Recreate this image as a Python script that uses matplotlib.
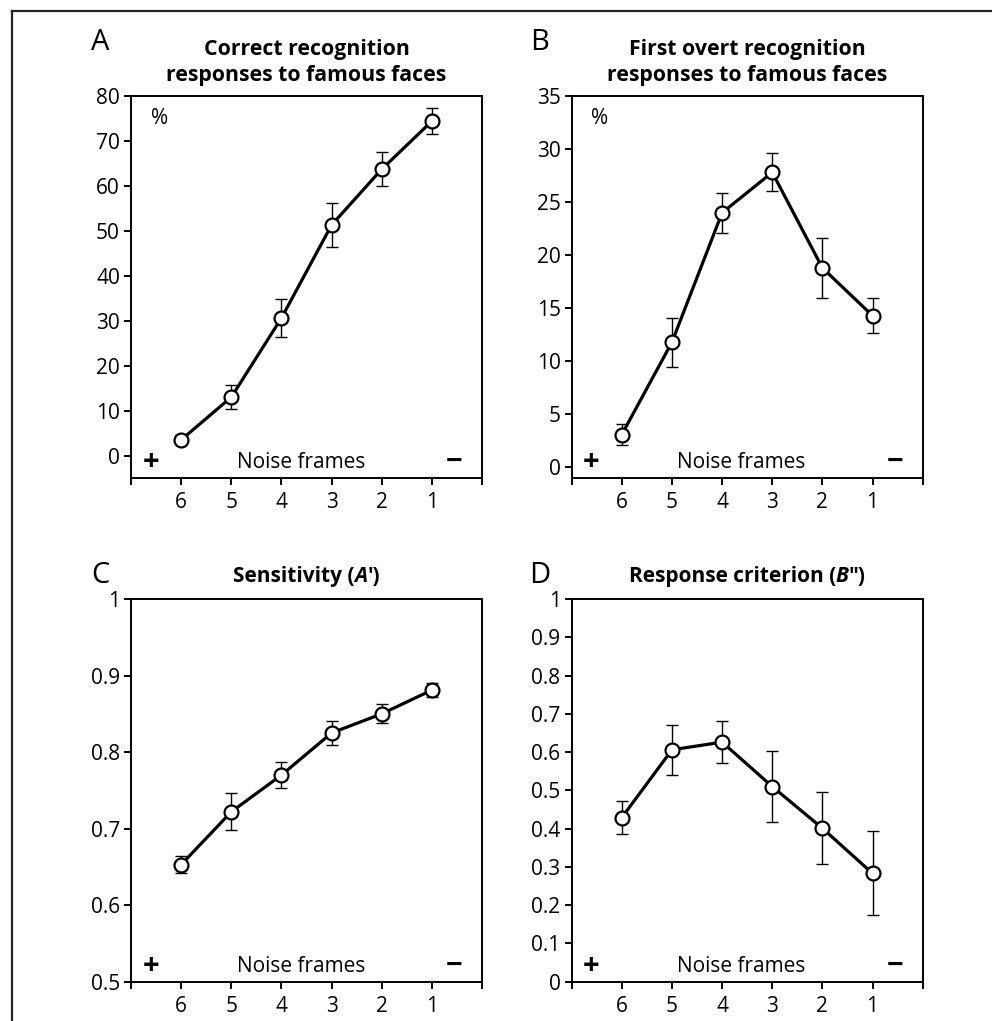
import matplotlib
matplotlib.use("Agg")
import matplotlib.pyplot as plt
from matplotlib.lines import Line2D
from matplotlib.offsetbox import TextArea, HPacker, AnnotationBbox

plt.rcParams["font.family"] = ["Open Sans", "DejaVu Sans"]
plt.rcParams["font.size"] = 15

# noise frames shown, from most to least noise
frames = [6, 5, 4, 3, 2, 1]
frame_labels = ["", "6", "5", "4", "3", "2", "1", ""]

# A: correct recognition responses (%)
recog = [3.5, 13.0, 30.6, 51.3, 63.7, 74.4]
recog_err = [1.0, 2.6, 4.3, 5.0, 3.8, 2.9]

# B: first overt recognition responses (%)
first = [3.1, 11.8, 24.0, 27.8, 18.8, 14.3]
first_err = [0.95, 2.3, 1.9, 1.8, 2.85, 1.65]

# C: sensitivity A'
sens = [0.653, 0.722, 0.770, 0.825, 0.850, 0.881]
sens_err = [0.011, 0.024, 0.017, 0.0155, 0.0125, 0.0096]

# D: response criterion B''
crit = [0.429, 0.606, 0.626, 0.510, 0.401, 0.283]
crit_err = [0.043, 0.066, 0.055, 0.092, 0.094, 0.110]

fig = plt.figure(figsize=(9.92, 10.21), dpi=100)


def panel(rect, y, err, ylim, yticks, letter, letter_pos, pct=False):
    ax = fig.add_axes(rect)
    ax.errorbar(frames, y, yerr=err, fmt="none", ecolor="black",
                elinewidth=1.0, capsize=4, capthick=1.0, zorder=2)
    ax.plot(frames, y, color="black", lw=2.3, marker="o", ms=10,
            mfc="white", mec="black", mew=1.6, zorder=3, clip_on=False)
    ax.set_xlim(7, 0)
    ax.set_xticks([7, 6, 5, 4, 3, 2, 1, 0])
    ax.set_xticklabels(frame_labels)
    ax.set_ylim(*ylim)
    ax.set_yticks(yticks)
    ax.set_yticklabels(["%g" % round(t, 2) for t in yticks])
    for s in ax.spines.values():
        s.set_linewidth(1.4)
    ax.tick_params(axis="x", direction="out", length=5, width=1.4, pad=5)
    ax.tick_params(axis="y", direction="out", length=5, width=1.4, pad=3)

    ax.text(0.484, 0.04, "Noise frames", transform=ax.transAxes,
            ha="center", va="center")
    ax.text(0.056, 0.04, "+", transform=ax.transAxes, ha="center",
            va="center", fontweight="bold", fontsize=21)
    ax.text(0.92, 0.04, "\u2212", transform=ax.transAxes, ha="center",
            va="center", fontweight="bold", fontsize=21)
    if pct:
        ax.text(0.08, 0.94, "%", transform=ax.transAxes, ha="center",
                va="center")
    fig.text(letter_pos[0], letter_pos[1], letter, fontsize=21,
             ha="center", va="baseline")
    return ax


def mixed_title(ax, pieces):
    boxes = [TextArea(txt, textprops=dict(fontsize=15, fontweight="bold",
                                          fontstyle=st))
             for txt, st in pieces]
    pack = HPacker(children=boxes, align="baseline", pad=0, sep=0)
    ab = AnnotationBbox(pack, (0.5, 1.0), xycoords="axes fraction",
                        xybox=(0, 9), boxcoords="offset points",
                        box_alignment=(0.5, 0), frameon=False, pad=0)
    ax.add_artist(ab)


axA = panel([0.1321, 0.5318, 0.3538, 0.3742], recog, recog_err,
            (-5, 80), list(range(0, 81, 10)), "A", (0.1008, 0.951), pct=True)
axA.set_title("Correct recognition\nresponses to famous faces",
              fontweight="bold", fontsize=15.3, pad=11, linespacing=1.3)

axB = panel([0.5763, 0.5318, 0.3538, 0.3742], first, first_err,
            (-1, 35), list(range(0, 36, 5)), "B", (0.544, 0.951), pct=True)
axB.set_title("First overt recognition\nresponses to famous faces",
              fontweight="bold", fontsize=15.3, pad=11, linespacing=1.3)

axC = panel([0.1321, 0.0385, 0.3538, 0.3748], sens, sens_err,
            (0.5, 1.0), [0.5, 0.6, 0.7, 0.8, 0.9, 1.0], "C", (0.1008, 0.429))
mixed_title(axC, [("Sensitivity (", "normal"), ("A", "italic"),
                  ("')", "normal")])

axD = panel([0.5763, 0.0385, 0.3538, 0.3748], crit, crit_err,
            (0.0, 1.0), [i / 10 for i in range(11)], "D", (0.544, 0.429))
mixed_title(axD, [("Response criterion (", "normal"), ("B", "italic"),
                  ("\")", "normal")])

# outer frame, only top and left edges fall inside the image
fig.add_artist(Line2D([11.5 / 992, 11.5 / 992], [0, 1 - 11.5 / 1021],
                      transform=fig.transFigure, color="#222222", lw=1.6))
fig.add_artist(Line2D([11.5 / 992, 1], [1 - 11.5 / 1021, 1 - 11.5 / 1021],
                      transform=fig.transFigure, color="#222222", lw=1.6))

fig.savefig("out.png", dpi=100)
